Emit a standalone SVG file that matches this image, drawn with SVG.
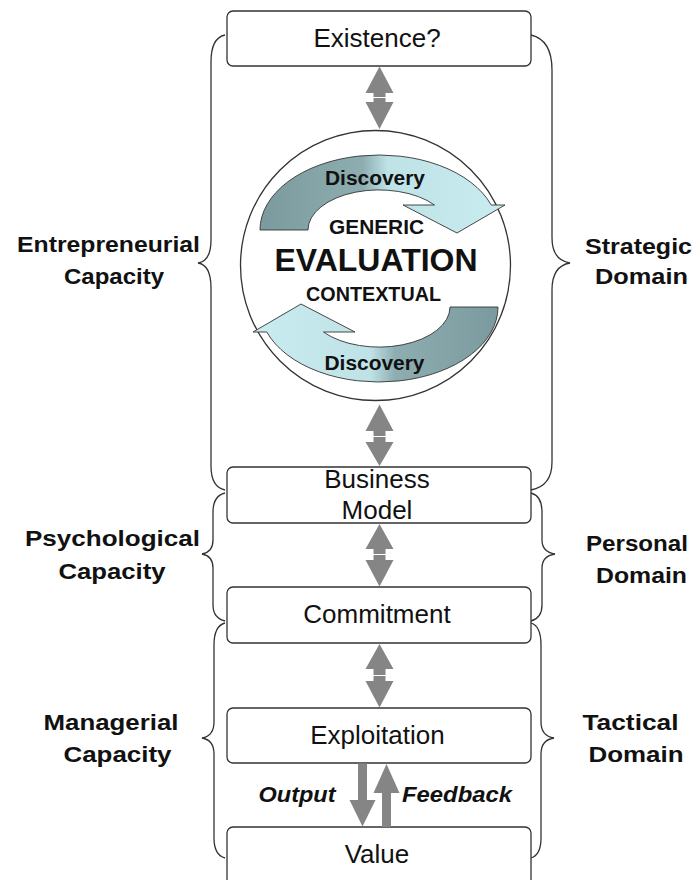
<svg xmlns="http://www.w3.org/2000/svg" width="697" height="880" viewBox="0 0 697 880">
<style>
.box{fill:#fff;stroke:#333;stroke-width:1.3}
.brace{fill:none;stroke:#333;stroke-width:1.3}
.arr{fill:#858585}
.t{font-family:"Liberation Sans",Arial,sans-serif;font-size:26px;fill:#111;text-anchor:middle}
.b{font-family:"Liberation Sans",Arial,sans-serif;font-weight:bold;font-size:22.5px;fill:#111;text-anchor:middle}
.c{font-family:"Liberation Sans",Arial,sans-serif;font-weight:bold;font-size:20px;fill:#111;text-anchor:middle}
.bi{font-family:"Liberation Sans",Arial,sans-serif;font-weight:bold;font-style:italic;font-size:22px;fill:#111;text-anchor:middle}
</style>
<defs>
<linearGradient id="g" x1="0" y1="0" x2="1" y2="0">
<stop offset="0" stop-color="#7a9a9e"/>
<stop offset="0.42" stop-color="#8dadb1"/>
<stop offset="0.52" stop-color="#bfe2e6"/>
<stop offset="1" stop-color="#c9ecf0"/>
</linearGradient>
<path id="ca" d="M260,230 A119,75 0 0 1 491.2,205 L505,205 L457,233 L403,205 L434.5,205 A71,40 0 0 0 308,230 Z" fill="url(#g)" stroke="#333" stroke-width="0.9"/>
</defs>
<rect width="697" height="880" fill="#fff"/>

<g id="braces">
<path class="brace" d="M225,35 Q211,38 211,62 L211,240 Q211,261 198,263 Q211,265 211,288 L211,466 Q211,487 225,490"/>
<path class="brace" d="M531,35 Q552,40 552,70 L552,238 Q552,260 570,263 Q552,266 552,290 L552,462 Q552,486 531,490"/>
<path class="brace" d="M225,493 Q213,496 213,512 L213,540 Q213,552 202,554 Q213,556 213,568 L213,605 Q213,618 225,621"/>
<path class="brace" d="M531,493 Q542,496 542,512 L542,540 Q542,552 555,554 Q542,556 542,568 L542,605 Q542,618 531,621"/>
<path class="brace" d="M225,623 Q214,626 214,645 L214,722 Q214,736 202,738 Q214,740 214,754 L214,838 Q214,855 225,858"/>
<path class="brace" d="M531,623 Q541,626 541,645 L541,722 Q541,736 554,738 Q541,740 541,754 L541,838 Q541,855 531,858"/>
</g>

<g id="evaluation">
<circle cx="375.5" cy="265.5" r="135" fill="#fff" stroke="#333" stroke-width="1.3"/>
<use href="#ca"/>
<use href="#ca" transform="rotate(180 379 268.5)"/>
<text class="c" x="375" y="185" textLength="100" lengthAdjust="spacingAndGlyphs">Discovery</text>
<text class="c" x="376.5" y="234" textLength="95" lengthAdjust="spacingAndGlyphs">GENERIC</text>
<text class="c" x="376" y="271" style="font-size:32px" textLength="203" lengthAdjust="spacingAndGlyphs">EVALUATION</text>
<text class="c" x="373.5" y="301" textLength="135" lengthAdjust="spacingAndGlyphs">CONTEXTUAL</text>
<text class="c" x="374.5" y="370" textLength="100" lengthAdjust="spacingAndGlyphs">Discovery</text>
</g>

<g id="existence">
<rect class="box" x="227" y="11" width="304" height="55" rx="6"/>
<text class="t" x="377" y="47">Existence?</text>
</g>
<g id="business-model">
<rect class="box" x="227" y="467" width="304" height="56" rx="6"/>
<text class="t" x="377" y="487.5">Business</text>
<text class="t" x="377" y="518.5">Model</text>
</g>
<g id="commitment">
<rect class="box" x="227" y="587" width="304" height="56" rx="6"/>
<text class="t" x="377" y="623">Commitment</text>
</g>
<g id="exploitation">
<rect class="box" x="227" y="708" width="304" height="55" rx="6"/>
<text class="t" x="377.5" y="744">Exploitation</text>
</g>
<g id="value">
<rect class="box" x="227" y="827" width="304" height="70" rx="6"/>
<text class="t" x="377" y="863">Value</text>
</g>

<g id="connectors">
<polygon class="arr" points="379.5,66.5 393.5,93 385.5,93 385.5,97 373.5,97 373.5,93 365.5,93"/>
<polygon class="arr" points="373.5,98 385.5,98 385.5,102 393.5,102 379.5,129 365.5,102 373.5,102"/>
<polygon class="arr" points="379.5,404.5 393.5,431 385.5,431 385.5,436 373.5,436 373.5,431 365.5,431"/>
<polygon class="arr" points="373.5,437 385.5,437 385.5,442 393.5,442 379.5,466 365.5,442 373.5,442"/>
<polygon class="arr" points="379.5,524 393.5,549 385.5,549 385.5,554 373.5,554 373.5,549 365.5,549"/>
<polygon class="arr" points="373.5,555 385.5,555 385.5,560 393.5,560 379.5,586.5 365.5,560 373.5,560"/>
<polygon class="arr" points="379.5,644 393.5,669 385.5,669 385.5,675 373.5,675 373.5,669 365.5,669"/>
<polygon class="arr" points="373.5,676 385.5,676 385.5,681 393.5,681 379.5,707.5 365.5,681 373.5,681"/>
<polygon class="arr" points="358,763.5 367,763.5 367,800 375.5,800 362.5,826.5 349.5,800 358,800"/>
<polygon class="arr" points="386.5,764 399.5,793 391,793 391,827 382,827 382,793 373.5,793"/>
<text class="bi" x="297" y="802" textLength="77" lengthAdjust="spacingAndGlyphs">Output</text>
<text class="bi" x="457" y="802" textLength="110" lengthAdjust="spacingAndGlyphs">Feedback</text>
</g>

<g id="labels">
<text class="b" x="108.5" y="252" textLength="183" lengthAdjust="spacingAndGlyphs">Entrepreneurial</text>
<text class="b" x="114" y="283.5" textLength="100" lengthAdjust="spacingAndGlyphs">Capacity</text>
<text class="b" x="638.5" y="253.5" textLength="107" lengthAdjust="spacingAndGlyphs">Strategic</text>
<text class="b" x="641.5" y="283.5" textLength="93" lengthAdjust="spacingAndGlyphs">Domain</text>
<text class="b" x="112.5" y="546" textLength="175" lengthAdjust="spacingAndGlyphs">Psychological</text>
<text class="b" x="112" y="578.5" textLength="107" lengthAdjust="spacingAndGlyphs">Capacity</text>
<text class="b" x="637" y="551" textLength="102" lengthAdjust="spacingAndGlyphs">Personal</text>
<text class="b" x="641.5" y="583" textLength="91" lengthAdjust="spacingAndGlyphs">Domain</text>
<text class="b" x="111" y="729.5" textLength="135" lengthAdjust="spacingAndGlyphs">Managerial</text>
<text class="b" x="117.5" y="762" textLength="108" lengthAdjust="spacingAndGlyphs">Capacity</text>
<text class="b" x="630.5" y="730" textLength="96" lengthAdjust="spacingAndGlyphs">Tactical</text>
<text class="b" x="636" y="762" textLength="95" lengthAdjust="spacingAndGlyphs">Domain</text>
</g>
</svg>
